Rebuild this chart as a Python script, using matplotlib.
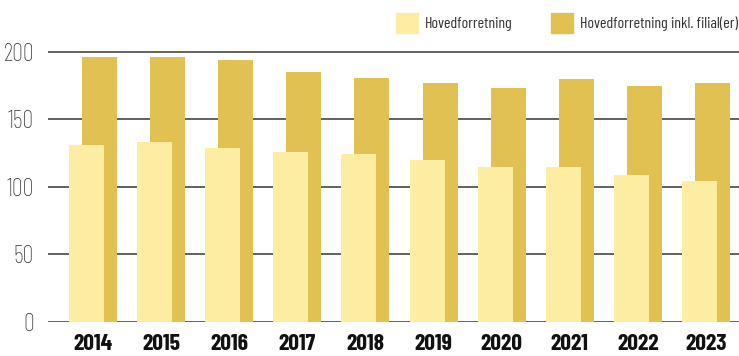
import numpy as np
import matplotlib.pyplot as plt
from matplotlib.patches import Patch

# Antall forretningssteder per år
years = ['2014', '2015', '2016', '2017', '2018', '2019', '2020', '2021', '2022', '2023']
hoved = [131, 133, 129, 126, 124, 120, 115, 115, 109, 104]
inkl_filial = [196, 196, 194, 185, 181, 177, 173, 180, 175, 177]

light = '#fdeda3'
dark = '#e0c152'

plt.rcParams['font.family'] = ['Barlow Condensed', 'Roboto Condensed', 'DejaVu Sans']

fig = plt.figure(figsize=(7.39, 3.56), dpi=100)
W, H = 739, 356
ax = fig.add_axes([48 / W, (H - 321.7) / H, (W - 48) / W, 291.3 / H])

x = np.arange(len(years))
bw = 0.514
off = 0.0955
ax.bar(x + off, inkl_filial, width=bw, color=dark, zorder=2)
ax.bar(x - off, hoved, width=bw, color=light, zorder=3)

ax.set_ylim(0, 216)
ax.set_xlim(-0.661, 9.486)
ax.set_yticks([0, 50, 100, 150, 200])
ax.yaxis.grid(True, color='#555555', linewidth=1.3, zorder=1)
ax.set_axisbelow(True)
for s in ax.spines.values():
    s.set_visible(False)

ax.tick_params(axis='y', length=0, pad=10, labelsize=17.5, labelcolor='#333333')
ax.tick_params(axis='x', length=0, pad=9, labelsize=17)
for t in ax.get_yticklabels():
    t.set_fontweight('light')
ax.set_xticks(x)
ax.set_xticklabels(years, fontweight='bold', color='#111111')

handles = [Patch(color=light, label='Hovedforretning'),
           Patch(color=dark, label='Hovedforretning inkl. filial(er)')]
fig.legend(handles=handles, loc='upper right', bbox_to_anchor=(1.012, 0.99),
           ncol=2, frameon=False, fontsize=11.5, labelcolor='#333333',
           handlelength=1.38, handleheight=1.5, handletextpad=0.45,
           columnspacing=2.4, borderpad=0.35, borderaxespad=0.25)

fig.savefig('out.png', dpi=100)
